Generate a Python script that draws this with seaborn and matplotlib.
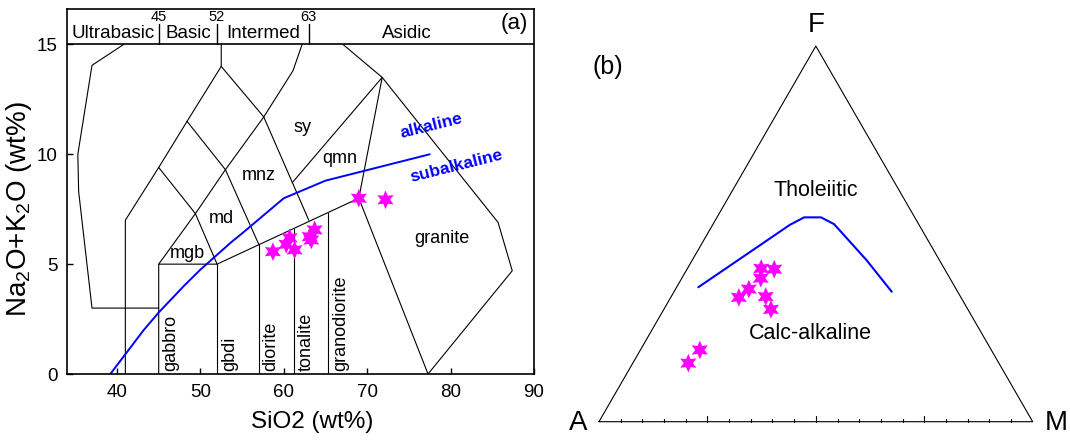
import numpy as np
import pandas as pd
import matplotlib
matplotlib.use('Agg')
import matplotlib.pyplot as plt
import seaborn as sns

# ---- (a) TAS plutonic diagram data ----
sio2 = [58.7, 60.3, 60.7, 61.3, 63.1, 63.3, 63.7, 69.0, 72.2]
alkali = [5.57, 5.9, 6.2, 5.65, 6.25, 6.1, 6.56, 8.0, 7.93]

# alkaline / subalkaline divide
divide_sio2 = [39.2, 40.0, 43.2, 45.0, 48.0, 50.0, 53.7, 55.0, 60.0, 65.0, 77.5]
divide_alk = [0.0, 0.4, 2.0, 2.8, 4.0, 4.75, 6.0, 6.4, 8.0, 8.8, 10.0]

# field boundaries (SiO2, Na2O+K2O)
field_lines = [
    [(40.8, 15.0), (37.0, 14.05), (35.3, 10.0), (35.4, 8.3), (37.0, 3.0), (45.0, 3.0)],
    [(41.0, 0.0), (41.0, 7.0), (45.0, 9.4), (48.4, 11.5), (52.5, 14.0), (52.5, 15.0)],
    [(45.0, 0.0), (45.0, 5.0), (49.4, 7.3), (53.0, 9.3), (57.6, 11.7), (61.1, 13.8), (62.2, 15.0)],
    [(45.0, 5.0), (52.0, 5.0), (69.0, 8.0), (71.8, 13.5), (67.1, 15.0)],
    [(45.0, 9.4), (49.4, 7.3), (52.0, 5.0)],
    [(48.4, 11.5), (53.0, 9.3), (57.0, 5.9)],
    [(52.5, 14.0), (57.6, 11.7), (63.0, 7.0)],
    [(61.0, 8.7), (71.8, 13.5), (85.7, 6.9), (87.4, 4.7), (77.3, 0.0)],
    [(69.0, 8.0), (77.3, 0.0)],
    [(52.0, 0.0), (52.0, 5.0)],
    [(57.0, 0.0), (57.0, 5.9)],
    [(61.2, 0.0), (61.2, 6.62)],
    [(65.3, 0.0), (65.3, 7.35)],
]

field_names = ['sy', 'qmn', 'mnz', 'md', 'mgb', 'granite']
field_x = [62.2, 66.7, 57.0, 52.5, 48.4, 79.0]
field_y = [11.2, 9.83, 9.02, 7.09, 5.5, 6.18]

rock_names = ['gabbro', 'gbdi', 'diorite', 'tonalite', 'granodiorite']
rock_x = [46.4, 53.5, 58.4, 62.7, 66.8]

band_names = ['Ultrabasic', 'Basic', 'Intermed', 'Asidic']
band_x = [39.5, 48.5, 57.5, 74.7]
band_limits = [45, 52, 63]

# ---- (b) AFM diagram data (percent) ----
afm_a = [42.2, 39.3, 43.6, 47.8, 51.2, 44.9, 45.4, 67.2, 71.6]
afm_f = [40.8, 40.6, 38.2, 35.3, 33.1, 33.3, 29.9, 19.1, 15.6]
afm_m = [17.0, 20.1, 18.2, 16.9, 15.7, 21.8, 24.7, 13.7, 12.8]

bound_a = [59.2, 29.8, 25.5, 21.6, 19.5, 16.8, 15.2]
bound_f = [35.8, 52.4, 54.4, 54.4, 52.6, 43.0, 34.6]
bound_m = [5.0, 17.8, 20.1, 24.0, 27.9, 40.2, 50.2]

sns.set_theme(style='white')
plt.rcParams['font.family'] = ['Liberation Sans', 'DejaVu Sans']
plt.rcParams['mathtext.fontset'] = 'custom'
plt.rcParams['mathtext.rm'] = 'Liberation Sans'
plt.rcParams['mathtext.it'] = 'Liberation Sans:italic'
for key in ['text.color', 'axes.labelcolor', 'xtick.color', 'ytick.color']:
    plt.rcParams[key] = 'black'

star = (6, 1, 0)
fig = plt.figure(figsize=(10.7, 4.4), dpi=100)

# ---------------- panel (a) ----------------
ax = fig.add_axes([0.0626, 0.15, 0.4364, 0.8289])
ax.set_xlim(34, 90)
ax.set_ylim(0, 16.6)

for line in field_lines:
    xs, ys = zip(*line)
    ax.plot(xs, ys, color='black', lw=0.8)

df_div = pd.DataFrame({'x': divide_sio2, 'y': divide_alk})
sns.lineplot(data=df_div, x='x', y='y', sort=False, estimator=None,
             color='blue', lw=1.4, ax=ax)

df_a = pd.DataFrame({'SiO2': sio2, 'alk': alkali})
sns.scatterplot(data=df_a, x='SiO2', y='alk', marker=star, s=180,
                color='magenta', edgecolor='none', ax=ax, zorder=5)

# top band
ax.axhline(15, color='black', lw=1.2)
for b in band_limits:
    ax.plot([b, b], [15, 15.95], color='black', lw=1.0)
    ax.text(b, 16.25, str(b), ha='center', va='center', fontsize=10.5)
for name, bx in zip(band_names, band_x):
    ax.text(bx, 15.52, name, ha='center', va='center', fontsize=13.5)
ax.text(87.6, 15.95, '(a)', ha='center', va='center', fontsize=16)

for name, fx, fy in zip(field_names, field_x, field_y):
    ax.text(fx, fy, name, ha='center', va='center', fontsize=13)
for name, rx in zip(rock_names, rock_x):
    ax.text(rx, 0.15, name, ha='center', va='bottom', rotation=90, fontsize=13)

ax.text(77.7, 11.27, 'alkaline', color='blue', fontweight='bold', fontsize=12.5,
        rotation=14, ha='center', va='center')
ax.text(80.7, 9.45, 'subalkaline', color='blue', fontweight='bold', fontsize=12.5,
        rotation=14, ha='center', va='center')

ax.set_xticks([40, 50, 60, 70, 80, 90])
ax.set_yticks([0, 5, 10, 15])
ax.tick_params(direction='in', length=4, width=1, labelsize=13.5, pad=7,
               bottom=True, left=True)
for sp in ax.spines.values():
    sp.set_color('black')
    sp.set_linewidth(1.2)
ax.set_xlabel('SiO2 (wt%)', fontsize=17.5)
ax.set_ylabel('Na$_2$O+K$_2$O (wt%)', fontsize=20)
ax.xaxis.set_label_coords(0.525, -0.102)
ax.yaxis.set_label_coords(-0.07, 0.452)

# ---------------- panel (b) ----------------
bx_ = fig.add_axes([560 / 1070, 0.0, 510 / 1070, 1.0])
bx_.set_xlim(-0.0899, 1.086)
bx_.set_ylim(-0.0422, 0.9723)
bx_.axis('off')

h = np.sqrt(3) / 2
bx_.plot([0, 1, 0.5, 0], [0, 0, h, 0], color='black', lw=0.8)
for i in range(1, 20):
    tl = 0.014 if i % 5 == 0 else 0.007
    bx_.plot([i / 20, i / 20], [0, tl], color='black', lw=0.8)


def to_xy(a, f, m):
    a, f, m = np.asarray(a), np.asarray(f), np.asarray(m)
    tot = a + f + m
    return m / tot + 0.5 * f / tot, h * f / tot


ux, uy = to_xy(bound_a, bound_f, bound_m)
sns.lineplot(x=ux, y=uy, sort=False, estimator=None, color='blue', lw=1.5, ax=bx_)
px, py = to_xy(afm_a, afm_f, afm_m)
sns.scatterplot(x=px, y=py, marker=star, s=180, color='magenta',
                edgecolor='none', ax=bx_, zorder=5)

bx_.text(-0.0473, -0.002, 'A', ha='center', va='center', fontsize=20)
bx_.text(1.0553, -0.002, 'M', ha='center', va='center', fontsize=20)
bx_.text(0.5, 0.9147, 'F', ha='center', va='center', fontsize=20)
bx_.text(0.0208, 0.8186, '(b)', ha='center', va='center', fontsize=18)
bx_.text(0.4997, 0.534, 'Tholeiitic', ha='center', va='center', fontsize=15.5)
bx_.text(0.4865, 0.2038, 'Calc-alkaline', ha='center', va='center', fontsize=15.5)

fig.savefig('out.png', dpi=100)
